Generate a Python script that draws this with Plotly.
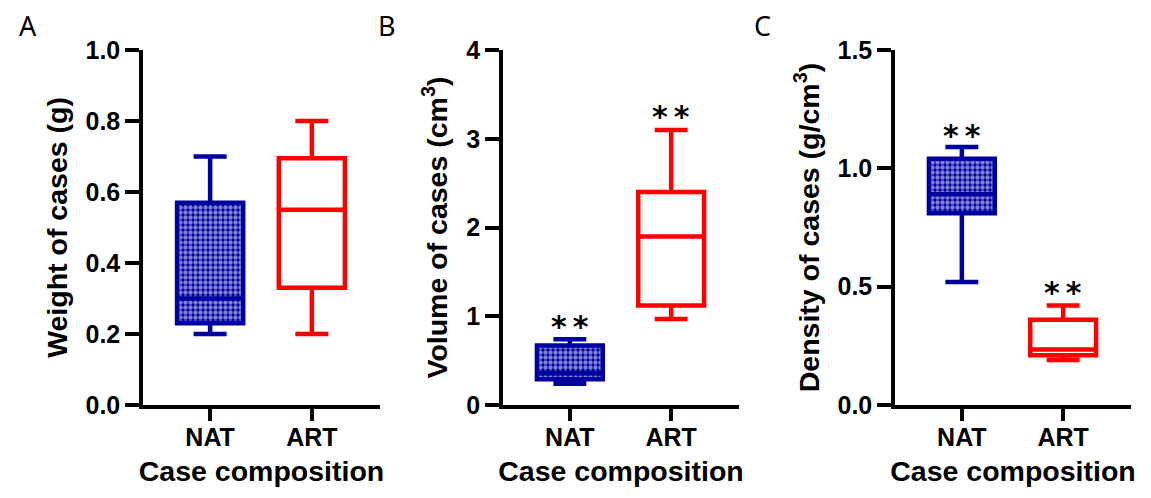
import plotly.graph_objects as go

# page body has an 8px margin; the figure is sized to fit the 1151x498 window
OFF = 8
W, H = 1151 - OFF, 498 - OFF
MT = 50 - OFF
MB = H - (405 - OFF)

categories = ["NAT", "ART"]
cat_pos = [0, 1]

# Panel A: weight (g)
a_min = [0.20, 0.20]
a_q1 = [0.23, 0.33]
a_med = [0.30, 0.55]
a_q3 = [0.57, 0.695]
a_max = [0.70, 0.80]

# Panel B: volume (cm3)
b_min = [0.24, 0.97]
b_q1 = [0.29, 1.12]
b_med = [0.36, 1.90]
b_q3 = [0.67, 2.40]
b_max = [0.74, 3.10]
b_star = [0.89, 3.25]

# Panel C: density (g/cm3)
c_min = [0.52, 0.19]
c_q1 = [0.81, 0.21]
c_med = [0.89, 0.235]
c_q3 = [1.04, 0.36]
c_max = [1.09, 0.42]
c_star = [1.14, 0.475]

BLUE = "#0000A0"
RED = "#FF0000"
colors = [BLUE, RED]
patterned = [True, False]

panels = [
    dict(mn=a_min, q1=a_q1, med=a_med, q3=a_q3, mx=a_max, star=None,
         ymax=1.0, dtick=0.2, fmt=".1f", title="Weight of cases (g)",
         px=(143, 380), label="A", lx=17),
    dict(mn=b_min, q1=b_q1, med=b_med, q3=b_q3, mx=b_max, star=b_star,
         ymax=4.0, dtick=1, fmt="d", title="Volume of cases (cm<sup>3</sup>)",
         px=(503, 739), label="B", lx=376),
    dict(mn=c_min, q1=c_q1, med=c_med, q3=c_q3, mx=c_max, star=c_star,
         ymax=1.5, dtick=0.5, fmt=".1f", title="Density of cases (g/cm<sup>3</sup>)",
         px=(895, 1131), label="C", lx=752),
]

fig = go.Figure()
BOXW = 0.65
annotations = []
layout = {}
plot_h = H - MT - MB
TF = dict(family="Liberation Sans", size=25, color="black", weight="bold")
TT = dict(family="Liberation Sans", size=28.5, color="black", weight="bold")

for i, p in enumerate(panels):
    n = "" if i == 0 else str(i + 1)
    xa, ya = "x" + n, "y" + n
    for j in range(2):
        if patterned[j]:
            fig.add_trace(go.Bar(
                x=[cat_pos[j]], y=[p["q3"][j] - p["q1"][j]], base=[p["q1"][j]],
                width=BOXW, xaxis=xa, yaxis=ya, showlegend=False,
                marker=dict(color=BLUE, line=dict(width=0),
                            pattern=dict(shape=".", fgcolor="white", bgcolor=BLUE,
                                         size=5, solidity=0.6)),
                hoverinfo="skip"))
    for j in range(2):
        fig.add_trace(go.Box(
            x=[cat_pos[j]], q1=[p["q1"][j]], median=[p["med"][j]], q3=[p["q3"][j]],
            lowerfence=[p["mn"][j]], upperfence=[p["mx"][j]],
            width=BOXW, whiskerwidth=0.5, xaxis=xa, yaxis=ya, showlegend=False,
            line=dict(color=colors[j], width=4.5),
            fillcolor="rgba(0,0,0,0)", boxpoints=False))
    x0, x1 = p["px"][0] - OFF, p["px"][1] - OFF
    layout["xaxis" + n] = dict(
        domain=[x0 / W, x1 / W], range=[-0.66, 1.67], anchor=ya,
        tickmode="array", tickvals=cat_pos, ticktext=categories,
        showline=True, linecolor="black", linewidth=3.5,
        ticks="outside", ticklen=12, tickwidth=3.5, tickcolor="black",
        ticklabelstandoff=-5,
        showgrid=False, zeroline=False, tickfont=TF,
        title=dict(text="Case composition", standoff=12, font=TT),
    )
    layout["yaxis" + n] = dict(
        domain=[0, 1], range=[0, p["ymax"]], anchor=xa,
        dtick=p["dtick"], tick0=0, tickformat=p["fmt"],
        showline=True, linecolor="black", linewidth=3.5,
        ticks="outside", ticklen=14, tickwidth=3.5, tickcolor="black",
        showgrid=False, zeroline=False, tickfont=TF,
        title=dict(text=p["title"], standoff=11, font=TT),
    )
    if p["star"] is not None:
        for j in range(2):
            annotations.append(dict(
                x=cat_pos[j], y=p["star"][j], xref=xa, yref=ya,
                text="*\u2009*", showarrow=False, yanchor="middle",
                font=dict(family="DejaVu Sans", size=30, color="black", weight="bold")))
    annotations.append(dict(
        x=(p["lx"] - OFF) / W, y=(H - MB - (25 - OFF)) / plot_h,
        xref="paper", yref="paper",
        text=p["label"], showarrow=False, xanchor="left", yanchor="middle",
        font=dict(family="Noto Sans", size=27, color="black")))

fig.update_layout(
    width=W, height=H, margin=dict(l=0, r=0, t=MT, b=MB),
    paper_bgcolor="white", plot_bgcolor="white",
    annotations=annotations, showlegend=False, bargap=0, boxmode="overlay",
    **layout)

fig.write_html("out.html")
